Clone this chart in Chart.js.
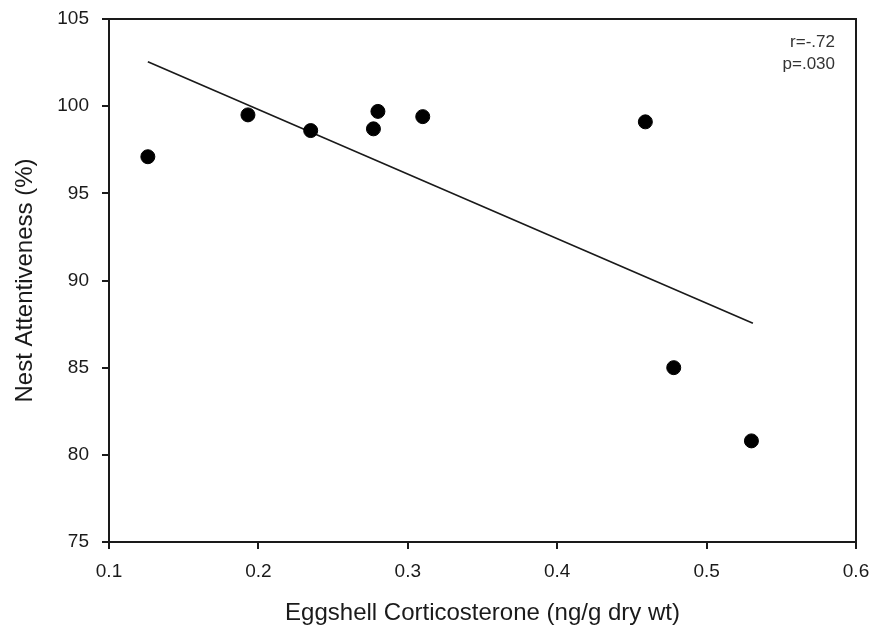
<!DOCTYPE html>
<html>
<head>
<meta charset="utf-8">
<script src="https://cdn.jsdelivr.net/npm/chart.js@4/dist/chart.umd.min.js"></script>
<style>
  html, body { margin: 0; padding: 0; background: #fff; }
  #wrap { width: 875px; height: 633px; }
</style>
</head>
<body>
<div id="wrap"><canvas id="nestChart"></canvas></div>
<script>
// eggshell corticosterone (ng/g dry wt) vs nest attentiveness (%)
var corticosterone = [0.126, 0.193, 0.235, 0.277, 0.280, 0.310, 0.459, 0.478, 0.530];
var attentiveness = [97.1, 99.5, 98.6, 98.7, 99.7, 99.4, 99.1, 85.0, 80.8];

// regression line end points
var fitX = [0.126, 0.531];
var fitY = [102.55, 87.55];

var statsText = ['r=-.72', 'p=.030'];

var pts = corticosterone.map(function (x, i) { return {x: x, y: attentiveness[i]}; });
var fitPts = fitX.map(function (x, i) { return {x: x, y: fitY[i]}; });

var FONT = "'Liberation Sans', Arial, sans-serif";
var INK = '#1a1a1a';

// full frame around the plot + the r / p note
var framePlugin = {
    id: 'frame',
    afterDraw: function (chart) {
        var a = chart.chartArea, ctx = chart.ctx;
        ctx.save();
        ctx.strokeStyle = INK;
        ctx.lineWidth = 2;
        ctx.strokeRect(a.left, a.top, a.right - a.left, a.bottom - a.top);
        ctx.fillStyle = '#333';
        ctx.font = '17px ' + FONT;
        ctx.textAlign = 'right';
        ctx.textBaseline = 'middle';
        ctx.fillText(statsText[0], a.right - 21, a.top + 23);
        ctx.fillText(statsText[1], a.right - 21, a.top + 45);
        ctx.restore();
    }
};

// keep the plot box where it is, ignore label overflow
function noOverflow(s) {
    s.paddingTop = 0;
    s.paddingBottom = 0;
    s.paddingLeft = 0;
    s.paddingRight = 0;
}

var ctx = document.getElementById('nestChart');

var nestChart = new Chart(ctx, {
    type: 'scatter',
    data: {
        datasets: [{
            label: 'Nests',
            data: pts,
            backgroundColor: '#000',
            borderColor: '#000',
            pointRadius: 7,
            pointHoverRadius: 7
        }, {
            label: 'Fit',
            data: fitPts,
            showLine: true,
            borderColor: INK,
            borderWidth: 1.6,
            pointRadius: 0,
            fill: false
        }]
    },
    options: {
        responsive: true,
        maintainAspectRatio: false,
        animation: false,
        layout: {
            padding: {left: 0, right: 19, top: 19, bottom: 0}
        },
        plugins: {
            legend: {display: false},
            tooltip: {enabled: false}
        },
        scales: {
            x: {
                type: 'linear',
                min: 0.1,
                max: 0.6,
                afterFit: function (s) { s.height = 91; noOverflow(s); },
                grid: {drawOnChartArea: false, drawTicks: true, tickLength: 7, color: INK, lineWidth: 2},
                border: {color: INK, width: 2},
                ticks: {
                    stepSize: 0.1,
                    color: INK,
                    padding: 11,
                    font: {family: FONT, size: 19},
                    callback: function (v) { return v.toFixed(1); }
                },
                title: {
                    display: true,
                    text: 'Eggshell Corticosterone (ng/g dry wt)',
                    color: INK,
                    font: {family: FONT, size: 24},
                    padding: {top: 0, bottom: 5}
                }
            },
            y: {
                type: 'linear',
                min: 75,
                max: 105,
                afterFit: function (s) { s.width = 109; noOverflow(s); },
                grid: {drawOnChartArea: false, drawTicks: true, tickLength: 7, color: INK, lineWidth: 2},
                border: {color: INK, width: 2},
                ticks: {
                    stepSize: 5,
                    color: INK,
                    padding: 13,
                    font: {family: FONT, size: 19}
                },
                title: {
                    display: true,
                    text: 'Nest Attentiveness (%)',
                    color: INK,
                    font: {family: FONT, size: 24},
                    padding: {top: 11, bottom: 0}
                }
            }
        }
    },
    plugins: [framePlugin]
});
</script>
</body>
</html>
